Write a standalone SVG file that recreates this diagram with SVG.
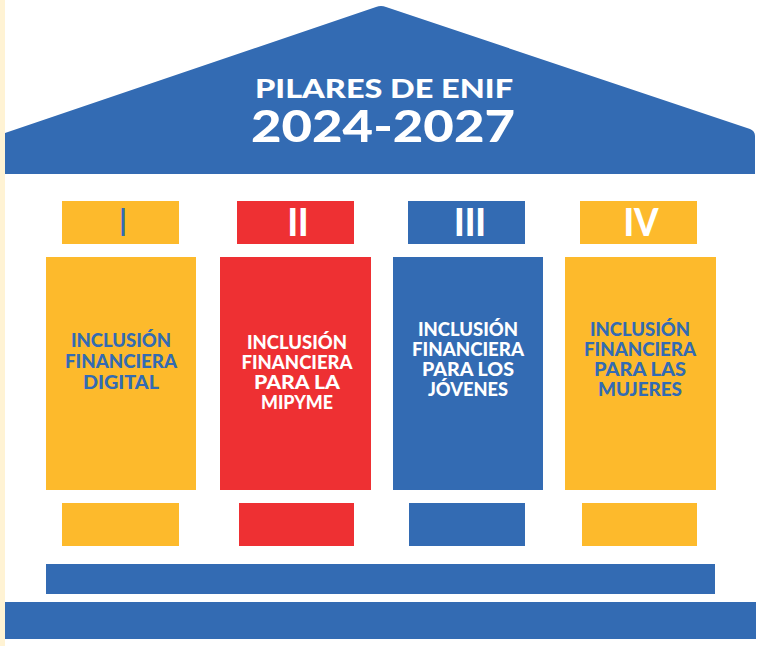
<svg xmlns="http://www.w3.org/2000/svg" width="758" height="646" viewBox="0 0 758 646">
<style>
.b{fill:#336BB3}.y{fill:#FDBA2C}.r{fill:#EE3033}
.t{font-family:Lato,"Open Sans","Liberation Sans",sans-serif;font-weight:900;text-anchor:middle}
.ct{font-size:18px}
.num{font-size:37px}
.w{fill:#FFFFFF}.bt{fill:#336BB3}
</style>
<rect x="0" y="0" width="758" height="646" fill="#FFFFFF"/>
<rect x="0" y="0" width="5" height="646" fill="#FFF3D4"/>
<g id="roof">
<path class="b" d="M5,174 L5,133 L376,7 Q381,5 386,7 L750,129 Q755,131 755,136 L755,174 Z"/>
<text class="t w" x="384" y="98" font-size="27" textLength="258" lengthAdjust="spacingAndGlyphs">PILARES DE ENIF</text>
<text class="t w" x="383" y="142" font-size="44" textLength="264" lengthAdjust="spacingAndGlyphs">2024-2027</text>
</g>
<g id="pillar1">
<rect class="y" x="62" y="201" width="117" height="43"/>
<text class="t bt num" x="123" y="236" textLength="6" lengthAdjust="spacingAndGlyphs">I</text>
<rect class="y" x="46" y="257" width="150" height="233"/>
<text class="t bt ct" x="121" y="347" textLength="100" lengthAdjust="spacingAndGlyphs">INCLUSIÓN</text>
<text class="t bt ct" x="121" y="368" textLength="112" lengthAdjust="spacingAndGlyphs">FINANCIERA</text>
<text class="t bt ct" x="121" y="389" textLength="76" lengthAdjust="spacingAndGlyphs">DIGITAL</text>
<rect class="y" x="62" y="503" width="117" height="43"/>
</g>
<g id="pillar2">
<rect class="r" x="237" y="201" width="117" height="43"/>
<text class="t w num" x="298" y="236" textLength="21" lengthAdjust="spacingAndGlyphs">II</text>
<rect class="r" x="220" y="257" width="151" height="233"/>
<text class="t w ct" x="297" y="349" textLength="100" lengthAdjust="spacingAndGlyphs">INCLUSIÓN</text>
<text class="t w ct" x="297" y="369" textLength="111" lengthAdjust="spacingAndGlyphs">FINANCIERA</text>
<text class="t w ct" x="297" y="389" textLength="86" lengthAdjust="spacingAndGlyphs">PARA LA</text>
<text class="t w ct" x="297" y="409" textLength="72" lengthAdjust="spacingAndGlyphs">MIPYME</text>
<rect class="r" x="239" y="503" width="115" height="43"/>
</g>
<g id="pillar3">
<rect class="b" x="408" y="201" width="117" height="43"/>
<text class="t w num" x="470" y="236" textLength="32" lengthAdjust="spacingAndGlyphs">III</text>
<rect class="b" x="393" y="257" width="150" height="233"/>
<text class="t w ct" x="468" y="336" textLength="100" lengthAdjust="spacingAndGlyphs">INCLUSIÓN</text>
<text class="t w ct" x="468" y="356" textLength="112" lengthAdjust="spacingAndGlyphs">FINANCIERA</text>
<text class="t w ct" x="468" y="376" textLength="92" lengthAdjust="spacingAndGlyphs">PARA LOS</text>
<text class="t w ct" x="468" y="396" textLength="80" lengthAdjust="spacingAndGlyphs">JÓVENES</text>
<rect class="b" x="409" y="503" width="116" height="43"/>
</g>
<g id="pillar4">
<rect class="y" x="580" y="201" width="117" height="43"/>
<text class="t w num" x="641" y="236" textLength="35" lengthAdjust="spacingAndGlyphs">IV</text>
<rect class="y" x="565" y="257" width="151" height="233"/>
<text class="t bt ct" x="640" y="336" textLength="100" lengthAdjust="spacingAndGlyphs">INCLUSIÓN</text>
<text class="t bt ct" x="640" y="356" textLength="112" lengthAdjust="spacingAndGlyphs">FINANCIERA</text>
<text class="t bt ct" x="640" y="376" textLength="92" lengthAdjust="spacingAndGlyphs">PARA LAS</text>
<text class="t bt ct" x="640" y="396" textLength="84" lengthAdjust="spacingAndGlyphs">MUJERES</text>
<rect class="y" x="582" y="503" width="115" height="43"/>
</g>
<g id="base">
<rect class="b" x="46" y="564" width="669" height="30"/>
<rect class="b" x="5" y="602" width="751" height="37"/>
</g>
<g id="connectors"/>
</svg>
